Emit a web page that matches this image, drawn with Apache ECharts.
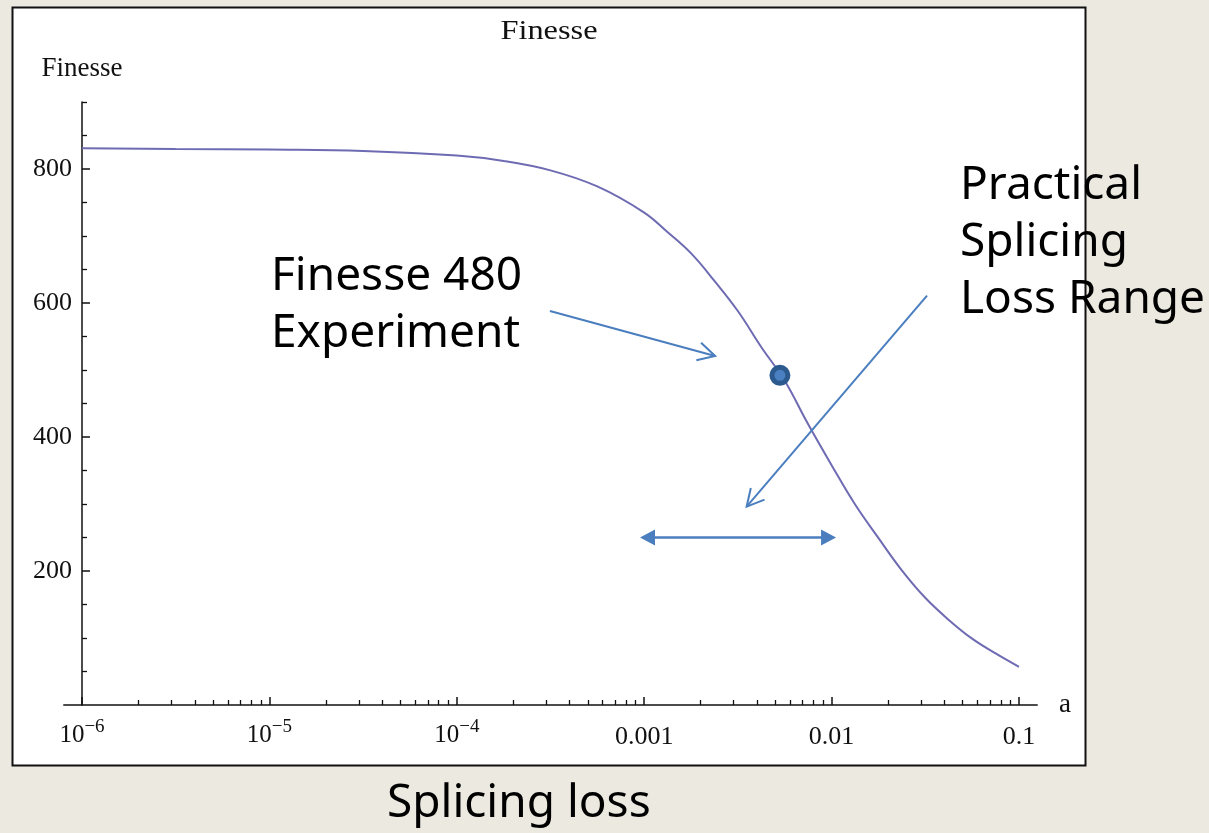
<!DOCTYPE html>
<html>
<head>
<meta charset="utf-8">
<script src="https://cdn.jsdelivr.net/npm/echarts@6/dist/echarts.min.js"></script>
<style>
html,body{margin:0;padding:0;background:#ECE9E0;}
#c{width:1209px;height:833px;}
</style>
</head>
<body>
<div id="c"></div>
<script>
// ---- data ----
const lossValues    = [1e-6, 3.16e-6, 1e-5, 3.16e-5, 1e-4, 1.78e-4, 3.16e-4, 5.62e-4, 1e-3, 1.33e-3, 1.78e-3, 2.37e-3, 3.16e-3, 4.22e-3, 5.62e-3, 7.5e-3, 1e-2, 1.33e-2, 1.78e-2, 2.37e-2, 3.16e-2, 4.22e-2, 5.62e-2, 7.5e-2, 0.1];
const finesseValues = [831, 830, 829, 827, 820, 812, 798, 774, 735, 706, 674, 633, 588, 534, 484, 419, 358, 300, 249, 201, 160, 127, 99, 77, 57];
const experimentPoint = [0.0053, 492];

// tick values / labels
const xMajorTicks = [1e-6, 1e-5, 1e-4, 0.001, 0.01, 0.1];
const xTickBase   = ['10', '10', '10', '0.001', '0.01', '0.1'];
const xTickExp    = ['\u22126', '\u22125', '\u22124', '', '', ''];
const xMinorMultipliers = [2, 3, 4, 5, 6, 7, 8, 9];
const xMinorDecades = [1e-6, 1e-5, 1e-4, 0.001, 0.01];
const yMajorTicks = [200, 400, 600, 800];
const yMinorTicks = [50, 100, 150, 250, 300, 350, 450, 500, 550, 650, 700, 750, 850, 900];

// annotation arrows: [xStart, yStart, xTip, yTip] in data units
const openArrows  = [[3.14e-4, 588, 2.39e-3, 521], [0.0323, 611, 0.00352, 296]];
const rangeArrows = [[0.00095, 250, 0.01056, 250]];

// texts
const titleText = 'Finesse';
const yName = 'Finesse';
const xName = 'a';
const noteExperiment = ['Finesse 480', 'Experiment'];
const noteRange = ['Practical', 'Splicing', 'Loss Range'];
const bottomCaption = 'Splicing loss';

// ---- styles ----
const serif = 'Liberation Serif';
const ink = '#111111';
const arrowBlue = '#4A7EBF';
const curveColor = '#6E6BB3';
const noteFont = '46px "Noto Sans"';

const xMinorTicks = [];
xMinorDecades.forEach(d => xMinorMultipliers.forEach(m => xMinorTicks.push(m * d)));

function fmtX(v) {
  let idx = 0, best = Infinity;
  xMajorTicks.forEach((t, i) => {
    const d = Math.abs(Math.log10(t) - Math.log10(v));
    if (d < best) { best = d; idx = i; }
  });
  if (xTickExp[idx]) return '{b|' + xTickBase[idx] + '}{s|' + xTickExp[idx] + '}';
  return '{n|' + xTickBase[idx] + '}';
}

function renderOpenArrow(params, api) {
  const a = api.coord([api.value(0), api.value(1)]);
  const b = api.coord([api.value(2), api.value(3)]);
  const dx = b[0] - a[0], dy = b[1] - a[1], L = Math.hypot(dx, dy);
  const ux = dx / L, uy = dy / L, nx = -uy, ny = ux;
  const back = 17, half = 9;
  return {
    type: 'group',
    children: [
      { type: 'line', shape: { x1: a[0], y1: a[1], x2: b[0], y2: b[1] },
        style: { stroke: arrowBlue, lineWidth: 2, fill: 'none' } },
      { type: 'polyline', shape: { points: [
          [b[0] - back * ux + half * nx, b[1] - back * uy + half * ny],
          [b[0], b[1]],
          [b[0] - back * ux - half * nx, b[1] - back * uy - half * ny]] },
        style: { stroke: arrowBlue, lineWidth: 2, fill: 'none' } }
    ]
  };
}

function renderRangeArrow(params, api) {
  const a = api.coord([api.value(0), api.value(1)]);
  const b = api.coord([api.value(2), api.value(3)]);
  const dx = b[0] - a[0], dy = b[1] - a[1], L = Math.hypot(dx, dy);
  const ux = dx / L, uy = dy / L, nx = -uy, ny = ux;
  const len = 15, half = 8;
  const tri = (p, s) => [
    [p[0], p[1]],
    [p[0] - s * len * ux + half * nx, p[1] - s * len * uy + half * ny],
    [p[0] - s * len * ux - half * nx, p[1] - s * len * uy - half * ny]
  ];
  return {
    type: 'group',
    children: [
      { type: 'line', shape: { x1: a[0] + (len - 2) * ux, y1: a[1] + (len - 2) * uy, x2: b[0] - (len - 2) * ux, y2: b[1] - (len - 2) * uy },
        style: { stroke: arrowBlue, lineWidth: 2.5, fill: 'none' } },
      { type: 'polygon', shape: { points: tri(a, -1) }, style: { fill: arrowBlue, stroke: 'none' } },
      { type: 'polygon', shape: { points: tri(b, 1) }, style: { fill: arrowBlue, stroke: 'none' } }
    ]
  };
}

const chart = echarts.init(document.getElementById('c'), null, { renderer: 'canvas' });

function noteText(id, text, x, y) {
  return { id: id, type: 'text', x: x, y: y, z: 10,
    style: { text: text, font: noteFont, fill: '#000', textAlign: 'left', textVerticalAlign: 'middle' } };
}

function staticGraphics(extra) {
  const g = [
    { id: 'frame', type: 'rect', z: -1, shape: { x: 12.5, y: 7.5, width: 1073, height: 758 },
      style: { fill: '#ffffff', stroke: '#111111', lineWidth: 2 } },
    { id: 'title', type: 'text', x: 549, y: 32, scaleX: 1.2, z: 10,
      style: { text: titleText, font: '27px "Liberation Serif"', fill: ink, textAlign: 'center', textVerticalAlign: 'middle' } },
    noteText('n1', noteExperiment[0], 271, 277),
    noteText('n2', noteExperiment[1], 271, 334),
    noteText('r1', noteRange[0], 960, 186),
    noteText('r2', noteRange[1], 960, 243),
    noteText('r3', noteRange[2], 960, 300),
    noteText('cap', bottomCaption, 387, 804)
  ];
  return extra ? g.concat(extra) : g;
}

const option = {
  backgroundColor: '#ECE9E0',
  animation: false,
  grid: { left: 82, right: 190, top: 102, bottom: 128, outerBoundsMode: 'none' },
  xAxis: [
    {
      type: 'log', logBase: 10, min: 1e-6, max: 0.1, position: 'bottom',
      name: xName, nameLocation: 'end', nameGap: 40,
      nameTextStyle: { fontFamily: serif, fontSize: 27, color: ink },
      axisLine: { show: false },
      splitLine: { show: false }, minorTick: { show: false }, minorSplitLine: { show: false },
      axisTick: { show: true, inside: true, length: 8, customValues: xMajorTicks, lineStyle: { color: ink, width: 1.5 } },
      axisLabel: {
        customValues: xMajorTicks, margin: 13, formatter: fmtX, color: ink,
        rich: {
          b: { fontFamily: serif, fontSize: 25, color: ink, lineHeight: 30, verticalAlign: 'bottom' },
          s: { fontFamily: serif, fontSize: 19, color: ink, lineHeight: 13, verticalAlign: 'top' },
          n: { fontFamily: serif, fontSize: 26, color: ink, lineHeight: 38 }
        }
      }
    },
    {
      type: 'log', logBase: 10, min: 1e-6, max: 0.1, position: 'bottom',
      axisLine: { show: false }, splitLine: { show: false }, axisLabel: { show: false },
      axisTick: { show: true, inside: true, length: 5, customValues: xMinorTicks, lineStyle: { color: ink, width: 1.3 } }
    }
  ],
  yAxis: [
    {
      type: 'value', min: 0, max: 900, interval: 100, position: 'left',
      name: yName, nameLocation: 'end', nameGap: 20,
      nameTextStyle: { fontFamily: serif, fontSize: 27, color: ink },
      axisLine: { show: true, lineStyle: { color: ink, width: 1.5 } },
      splitLine: { show: false },
      axisTick: { show: true, inside: true, length: 8, customValues: yMajorTicks, lineStyle: { color: ink, width: 1.5 } },
      axisLabel: { customValues: yMajorTicks, margin: 10, fontFamily: serif, fontSize: 26, color: ink }
    },
    {
      type: 'value', min: 0, max: 900, interval: 100, position: 'left',
      axisLine: { show: false }, splitLine: { show: false }, axisLabel: { show: false },
      axisTick: { show: true, inside: true, length: 5, customValues: yMinorTicks, lineStyle: { color: ink, width: 1.3 } }
    }
  ],
  series: [
    {
      type: 'line', xAxisIndex: 0, yAxisIndex: 0,
      data: lossValues.map((x, i) => [x, finesseValues[i]]),
      smooth: 0.4, showSymbol: false, symbol: 'none',
      lineStyle: { color: curveColor, width: 2 }, z: 3
    },
    {
      type: 'custom', xAxisIndex: 0, yAxisIndex: 0, data: openArrows,
      encode: { x: [0, 2], y: [1, 3] }, renderItem: renderOpenArrow, clip: false, z: 4
    },
    {
      type: 'custom', xAxisIndex: 0, yAxisIndex: 0, data: rangeArrows,
      encode: { x: [0, 2], y: [1, 3] }, renderItem: renderRangeArrow, clip: false, z: 4
    },
    {
      type: 'scatter', xAxisIndex: 0, yAxisIndex: 0, data: [experimentPoint],
      symbol: 'circle', symbolSize: 16,
      itemStyle: { color: '#4A80C2', borderColor: '#2C5A8F', borderWidth: 5, opacity: 1 }, z: 6
    }
  ],
  graphic: staticGraphics()
};

chart.setOption(option);

// x axis line extends a little beyond both end ticks (as in the reference)
const pL = chart.convertToPixel({ xAxisIndex: 0, yAxisIndex: 0 }, [Math.pow(10, -6.1), 0]);
const pR = chart.convertToPixel({ xAxisIndex: 0, yAxisIndex: 0 }, [Math.pow(10, -0.9), 0]);
chart.setOption({
  graphic: staticGraphics([
    { id: 'xline', type: 'line', z: 5, shape: { x1: pL[0], y1: pL[1], x2: pR[0], y2: pR[1] },
      style: { stroke: ink, lineWidth: 1.5 } }
  ])
});
</script>
</body>
</html>
